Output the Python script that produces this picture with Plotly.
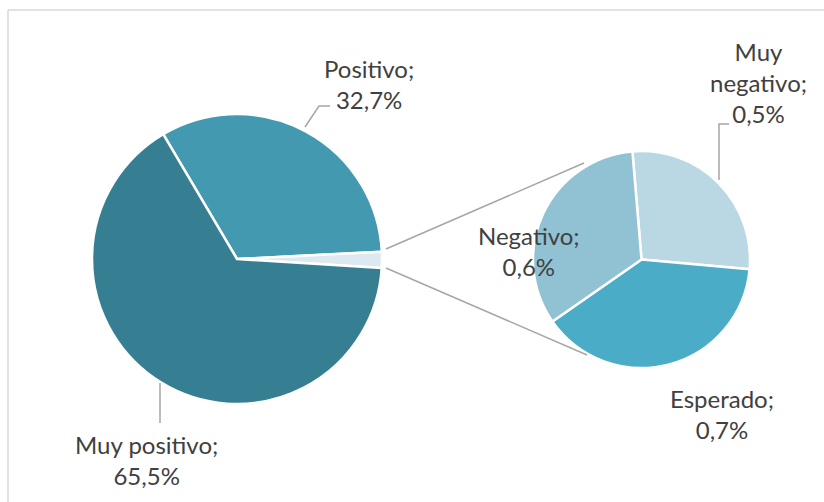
import plotly.graph_objects as go

W, H = 824, 502
FW, FH = W, H

# ---- data ----
main_labels = ["Positivo", "Otros", "Muy positivo"]
main_values = [32.7, 1.8, 65.5]
sub_labels = ["Muy negativo", "Esperado", "Negativo"]
sub_values = [0.5, 0.7, 0.6]

main_colors = ["#4299b0", "#dce9f0", "#367f93"]
sub_colors = ["#bad8e3", "#4aacc6", "#90c2d4"]

def fx(x):
    return x / FW

def fy(y):
    return 1 - y / FH

def dom(cx, cy, r):
    return dict(x=[fx(cx - r), fx(cx + r)], y=[fy(cy + r), fy(cy - r)])

fig = go.Figure()
fig.add_trace(go.Pie(
    labels=main_labels, values=main_values, sort=False, direction="clockwise",
    rotation=329.4, textinfo="none", hoverinfo="label+value",
    marker=dict(colors=main_colors, line=dict(color="white", width=2.5)),
    domain=dom(237, 259, 145), showlegend=False,
))
fig.add_trace(go.Pie(
    labels=sub_labels, values=sub_values, sort=False, direction="clockwise",
    rotation=355.2, textinfo="none", hoverinfo="label+value",
    marker=dict(colors=sub_colors, line=dict(color="white", width=2.5)),
    domain=dom(641.5, 259.5, 108.5), showlegend=False,
))

def fmt(v):
    return f"{v:.1f}".replace(".", ",") + "%"

font = dict(family="Lato, Open Sans, sans-serif", size=24, color="#404040")
ann = []
label_pos = {
    "Positivo": (369, 84, "Positivo;"),
    "Muy positivo": (146, 460, "Muy positivo;"),
    "Muy negativo": (758, 83, "Muy<br>negativo;"),
    "Negativo": (529, 251, "Negativo;"),
    "Esperado": (721.5, 414, "Esperado;"),
}
vals = dict(zip(main_labels, main_values))
vals.update(dict(zip(sub_labels, sub_values)))
for name, (x, y, t) in label_pos.items():
    ann.append(dict(x=fx(x), y=fy(y), xref="paper", yref="paper",
                    text=f"{t}<br>{fmt(vals[name])}", showarrow=False,
                    font=font, align="center", xanchor="center", yanchor="middle"))

line = dict(color="#a6a6a6", width=1.5)
border = dict(color="#d9d9d9", width=1.5)
shapes = [
    # chart border (top and left edges visible)
    dict(type="line", xref="paper", yref="paper", x0=fx(8), x1=fx(830), y0=fy(10), y1=fy(10), line=border),
    dict(type="line", xref="paper", yref="paper", x0=fx(8), x1=fx(8), y0=fy(10), y1=fy(510), line=border),
    # connectors between pies
    dict(type="line", xref="paper", yref="paper", x0=fx(386), y0=fy(249), x1=fx(584), y1=fy(163), line=line),
    dict(type="line", xref="paper", yref="paper", x0=fx(386), y0=fy(268), x1=fx(587), y1=fy(355), line=line),
    # leader lines
    dict(type="path", xref="paper", yref="paper",
         path=f"M {fx(305)} {fy(127)} L {fx(319)} {fy(106)} L {fx(330)} {fy(106)}", line=line),
    dict(type="line", xref="paper", yref="paper", x0=fx(160), y0=fy(383), x1=fx(160), y1=fy(423), line=line),
    dict(type="path", xref="paper", yref="paper",
         path=f"M {fx(719)} {fy(180)} L {fx(719)} {fy(124)} L {fx(729)} {fy(124)}", line=line),
]

fig.update_layout(
    width=FW, height=FH, margin=dict(l=0, r=0, t=0, b=0),
    paper_bgcolor="white", plot_bgcolor="white",
    annotations=ann, shapes=shapes,
)
fig.write_html(
    "out.html",
    config={"displayModeBar": False},
    post_script="document.body.style.margin='0';document.body.style.overflow='hidden';",
)
